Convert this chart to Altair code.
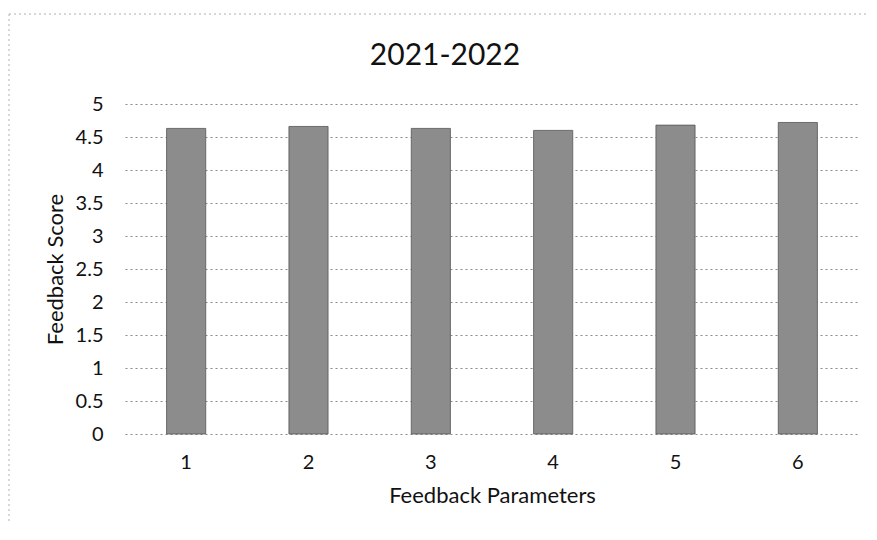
import altair as alt
import pandas as pd

parameters = ["1", "2", "3", "4", "5", "6"]
scores = [4.63, 4.66, 4.63, 4.60, 4.68, 4.72]
y_ticks = [0, 0.5, 1, 1.5, 2, 2.5, 3, 3.5, 4, 4.5, 5]
chart_title = "2021-2022"
x_title = "Feedback Parameters"
y_title = "Feedback Score"

df = pd.DataFrame({"param": parameters, "score": scores})
FONT = "Lato"

bars = alt.Chart(df).mark_bar(color="#8c8c8c", stroke="#555555", strokeWidth=0.8).encode(
    x=alt.X("param:N", sort=parameters, title=x_title,
            scale=alt.Scale(paddingInner=0.68, paddingOuter=0.34),
            axis=alt.Axis(labelAngle=0, domain=False, ticks=False, labelPadding=18,
                          titlePadding=13, labelFontSize=20, titleFontSize=22,
                          labelColor="#111", titleColor="#111",
                          labelFont=FONT, titleFont=FONT, titleFontWeight="normal")),
    y=alt.Y("score:Q", title=y_title,
            scale=alt.Scale(domain=[0, 5], nice=False),
            axis=alt.Axis(values=y_ticks, format="~g", domain=False, ticks=False,
                          labelPadding=22, titlePadding=8, labelFontSize=20, titleFontSize=22,
                          grid=True, gridDash=[2, 3], gridColor="#8a8a8a", gridWidth=1,
                          labelColor="#111", titleColor="#111",
                          labelFont=FONT, titleFont=FONT, titleFontWeight="normal")),
)

frame = alt.Data(values=[{}])
border_style = dict(stroke="#b0b0b0", strokeDash=[2, 3], strokeWidth=1)
top_line = alt.Chart(frame).mark_rule(**border_style).encode(
    x=alt.value(-116), x2=alt.value(745), y=alt.value(-90))
left_line = alt.Chart(frame).mark_rule(**border_style).encode(
    x=alt.value(-116), y=alt.value(-90), y2=alt.value(426))
bottom_line = alt.Chart(frame).mark_rule(**border_style).encode(
    x=alt.value(245), x2=alt.value(745), y=alt.value(426))

title = alt.Chart(frame).mark_text(
    fontSize=30, font=FONT, color="#111", align="center", baseline="alphabetic"
).encode(x=alt.value(320), y=alt.value(-39), text=alt.value(chart_title))

chart = alt.layer(top_line, left_line, bottom_line, title, bars).properties(
    width=734,
    height=330,
    padding={"left": 117, "top": 96, "right": 10, "bottom": 90},
    autosize=alt.AutoSizeParams(type="none"),
).configure_view(stroke=None)

chart.save("out.html", embed_options={"renderer": "svg", "actions": False})
